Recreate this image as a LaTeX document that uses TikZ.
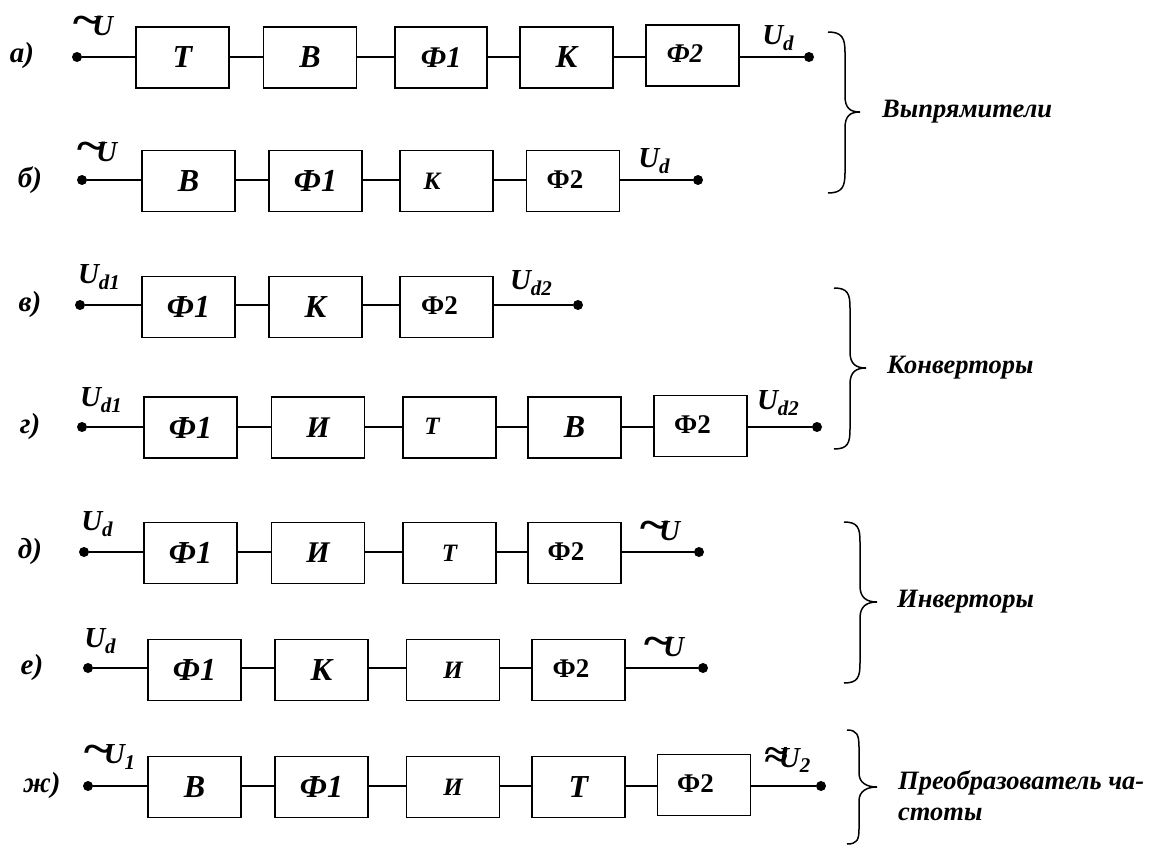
\documentclass[tikz,border=0pt]{standalone}
\usepackage{fontspec}
\setmainfont{Liberation Serif}
\newcommand\szA{\fontsize{32}{36}\selectfont\bfseries\itshape}
\newcommand\szB{\fontsize{25}{28}\selectfont\bfseries\itshape}
\newcommand\szC{\fontsize{30}{33}\selectfont\bfseries\itshape}
\newcommand\szD{\fontsize{27}{30}\selectfont\bfseries\itshape}
\newcommand\szF{\fontsize{27}{30}\selectfont\bfseries\upshape}
\newcommand\szL{\fontsize{29}{32}\selectfont\bfseries\itshape}
\newcommand\szS{\fontsize{26.5}{31}\selectfont\bfseries\itshape}
\newcommand\subd[1]{\raisebox{-0.18em}{\fontsize{21}{21}\selectfont #1}}
\newcommand\tU{\raisebox{0.02em}{\scalebox{1.9}[1.5]{\char"007E}}\kern-0.36em U}
\newcommand\aU{\raisebox{0.0em}{\scalebox{1.5}[1.3]{≈}}\kern-0.3em U}
\newcommand\FF[1]{\raisebox{3pt}{Ф2}\kern#1pt}
\begin{document}
\begin{tikzpicture}[x=1pt,y=-1pt,
  blk/.style={draw,line width=1.5pt,minimum width=93pt,minimum height=61pt,inner sep=0pt},
  dotn/.style={circle,fill,inner sep=0pt,minimum size=10pt},
  lbl/.style={inner sep=0pt,font=\szL},
  wire/.style={line width=2pt},
  brc/.style={line width=1.5pt},
  grp/.style={inner sep=0pt,anchor=west,font=\szS,align=left}]
\useasboundingbox (0,0) rectangle (1152,846);
% ---- row a
\node[lbl] (la) at (22,56) {а)};
\node[dotn] (a0) at (77,57) {};
\node[blk,font=\szA] (a1) at (182.5,57.5) {Т};
\node[blk,font=\szA] (a2) at (310,57.5) {В};
\node[blk,font=\szC,minimum width=92pt] (a3) at (441,57.5) {Ф1};
\node[blk,font=\szA] (a4) at (566.5,57.5) {К};
\node[blk,font=\szD] (a5) at (692.5,55.5) {\FF{15}};
\node[dotn] (ae) at (809,57) {};
\node[lbl] (ua0) at (92,26) {\tU};
\node[lbl] (uae) at (778,38) {U\subd{d}};
\draw[wire] (a0) -- (a0 -| a1.west) (a1.east |- a0) -- (a2.west |- a0) (a2.east |- a0) -- (a3.west |- a0) (a3.east |- a0) -- (a4.west |- a0) (a4.east |- a0) -- (a5.west |- a0) (a5.east |- ae) -- (ae);
% ---- row b
\node[lbl] (lb) at (30,180) {б)};
\node[dotn] (b0) at (82,180) {};
\node[blk,font=\szA] (b1) at (188.5,181) {В};
\node[blk,font=\szA] (b2) at (315.5,181) {Ф1};
\node[blk,font=\szB] (b3) at (446.5,181) {К\kern29pt};
\node[blk,font=\szF] (b4) at (573,181) {\FF{16}};
\node[dotn] (be) at (698,180) {};
\node[lbl] (ub0) at (96,152) {\tU};
\node[lbl] (ube) at (654,161) {U\subd{d}};
\draw[wire] (b0) -- (b0 -| b1.west) (b1.east |- b0) -- (b2.west |- b0) (b2.east |- b0) -- (b3.west |- b0) (b3.east |- b0) -- (b4.west |- b0) (b4.east |- be) -- (be);
% ---- row c
\node[lbl] (lc) at (30,305) {в)};
\node[dotn] (c0) at (80,305) {};
\node[blk,font=\szA] (c1) at (188.5,307) {Ф1};
\node[blk,font=\szA] (c2) at (315.5,307) {К};
\node[blk,font=\szF] (c3) at (446.5,307) {\FF{14}};
\node[dotn] (ce) at (578,305) {};
\node[lbl] (uc0) at (99,277) {U\subd{d1}};
\node[lbl] (uce) at (531,283) {U\subd{d2}};
\draw[wire] (c0) -- (c0 -| c1.west) (c1.east |- c0) -- (c2.west |- c0) (c2.east |- c0) -- (c3.west |- c0) (c3.east |- ce) -- (ce);
% ---- row d
\node[lbl] (ld) at (30,427) {г)};
\node[dotn] (d0) at (82,427) {};
\node[blk,font=\szA] (d1) at (190.5,427.5) {Ф1};
\node[blk,font=\szC] (d2) at (318,427.5) {И};
\node[blk,font=\szB] (d3) at (449.5,427.5) {\raisebox{2pt}{Т}\kern35pt};
\node[blk,font=\szA] (d4) at (574.5,427.5) {В};
\node[blk,font=\szF] (d5) at (700.5,426) {\FF{16}};
\node[dotn] (de) at (817,427) {};
\node[lbl] (ud0) at (101,400) {U\subd{d1}};
\node[lbl] (ude) at (778,403) {U\subd{d2}};
\draw[wire] (d0) -- (d0 -| d1.west) (d1.east |- d0) -- (d2.west |- d0) (d2.east |- d0) -- (d3.west |- d0) (d3.east |- d0) -- (d4.west |- d0) (d4.east |- d0) -- (d5.west |- d0) (d5.east |- de) -- (de);
% ---- row e
\node[lbl] (le) at (30,552) {д)};
\node[dotn] (e0) at (84,552) {};
\node[blk,font=\szA] (e1) at (190.5,553) {Ф1};
\node[blk,font=\szC] (e2) at (318,553) {И};
\node[blk,font=\szB] (e3) at (449.5,553) {Т};
\node[blk,font=\szF] (e4) at (574.5,553) {\FF{17}};
\node[dotn] (ee) at (699,552) {};
\node[lbl] (ue0) at (97,524) {U\subd{d}};
\node[lbl] (uee) at (659,531) {\tU};
\draw[wire] (e0) -- (e0 -| e1.west) (e1.east |- e0) -- (e2.west |- e0) (e2.east |- e0) -- (e3.west |- e0) (e3.east |- e0) -- (e4.west |- e0) (e4.east |- ee) -- (ee);
% ---- row f
\node[lbl] (lf) at (32,668) {е)};
\node[dotn] (f0) at (88,668) {};
\node[blk,font=\szA] (f1) at (194.5,670) {Ф1};
\node[blk,font=\szA] (f2) at (321.5,670) {К};
\node[blk,font=\szB] (f3) at (453,670) {И};
\node[blk,font=\szF] (f4) at (578.5,670) {\FF{15}};
\node[dotn] (fe) at (703,668) {};
\node[lbl] (uf0) at (100,641) {U\subd{d}};
\node[lbl] (ufe) at (663,647) {\tU};
\draw[wire] (f0) -- (f0 -| f1.west) (f1.east |- f0) -- (f2.west |- f0) (f2.east |- f0) -- (f3.west |- f0) (f3.east |- f0) -- (f4.west |- f0) (f4.east |- fe) -- (fe);
% ---- row g
\node[lbl] (lg) at (42,786) {ж)};
\node[dotn] (g0) at (88,786) {};
\node[blk,font=\szA] (g1) at (194.5,787) {В};
\node[blk,font=\szA] (g2) at (321.5,787) {Ф1};
\node[blk,font=\szB] (g3) at (453,787) {И};
\node[blk,font=\szA] (g4) at (578.5,787) {Т};
\node[blk,font=\szF] (g5) at (704,785) {\FF{17}};
\node[dotn] (ge) at (821,786) {};
\node[lbl] (ug0) at (109,757) {\tU\subd{1}};
\node[lbl] (uge) at (787,760) {\aU\subd{2}};
\draw[wire] (g0) -- (g0 -| g1.west) (g1.east |- g0) -- (g2.west |- g0) (g2.east |- g0) -- (g3.west |- g0) (g3.east |- g0) -- (g4.west |- g0) (g4.east |- g0) -- (g5.west |- g0) (g5.east |- ge) -- (ge);
% ---- braces
\draw[brc] (828,32) .. controls (842,32) and (845,38) .. (845,52) -- (845,96) .. controls (845,108) and (850,112) .. (860,112) .. controls (850,112) and (845,116) .. (845,128) -- (845,173) .. controls (845,187) and (842,193) .. (828,193);
\node[grp] (t1) at (882,112) {Выпрямители};
\draw[brc] (834,288) .. controls (848,288) and (850,294) .. (850,308) -- (850,352) .. controls (850,364) and (856,368) .. (866,368) .. controls (856,368) and (850,372) .. (850,384) -- (850,429) .. controls (850,443) and (848,449) .. (834,449);
\node[grp] (t2) at (887,368) {Конверторы};
\draw[brc] (844,522) .. controls (858,522) and (860,528) .. (860,542) -- (860,586) .. controls (860,598) and (867,602) .. (877,602) .. controls (867,602) and (860,606) .. (860,618) -- (860,663) .. controls (860,677) and (858,683) .. (844,683);
\node[grp] (t3) at (897,602) {Инверторы};
\draw[brc] (847,730) .. controls (857,730) and (859,735) .. (859,747) -- (859,773) .. controls (859,783) and (867,787) .. (877,787) .. controls (867,787) and (859,791) .. (859,801) -- (859,829) .. controls (859,840) and (857,844) .. (847,844);
\node[grp,anchor=north west] (t4) at (898,770) {Преобразователь ча-\\стоты};
\end{tikzpicture}
\end{document}
